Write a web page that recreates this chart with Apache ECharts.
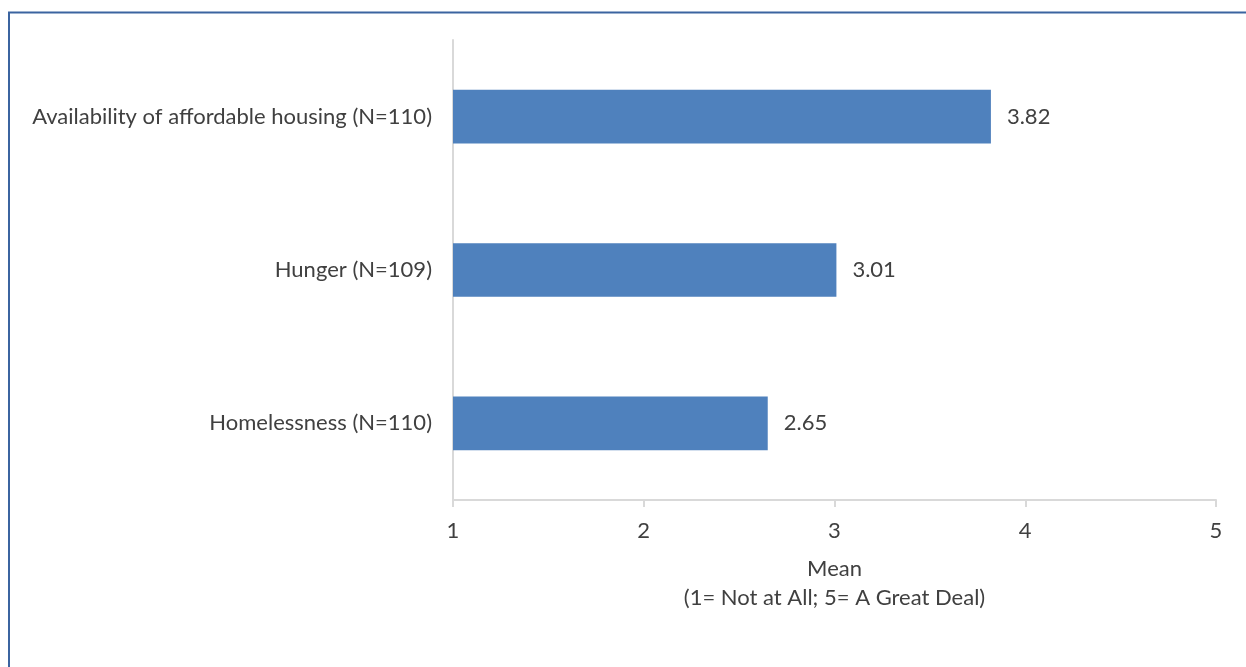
<!DOCTYPE html>
<html><head><meta charset="utf-8">
<script src="https://cdn.jsdelivr.net/npm/echarts@6/dist/echarts.min.js"></script>
<style>html,body{margin:0;padding:0;background:#fff;}#c{width:1246px;height:667px;}</style>
</head><body><div id="c"></div>
<script>
const categories = ['Homelessness (N=110)', 'Hunger (N=109)', 'Availability of affordable housing (N=110)'];
const means = [2.65, 3.01, 3.82];
const xTicks = [1, 2, 3, 4, 5];
const axisTitle = 'Mean\n(1= Not at All; 5= A Great Deal)';

const FONT = 'Lato';
const FS = 22;
const chart = echarts.init(document.getElementById('c'), null, {renderer: 'canvas'});
chart.setOption({
  backgroundColor: '#ffffff',
  animation: false,
  textStyle: {fontFamily: FONT},
  grid: {left: 453, right: 30, top: 40, bottom: 167, containLabel: false},
  xAxis: {
    type: 'value', min: xTicks[0], max: xTicks[xTicks.length - 1], interval: 1,
    name: axisTitle, nameLocation: 'middle', nameGap: 54,
    nameTextStyle: {fontFamily: FONT, fontSize: FS, color: '#404040', lineHeight: 29},
    axisLine: {show: true, lineStyle: {color: '#d9d9d9', width: 2}},
    axisTick: {show: true, length: 7, lineStyle: {color: '#d9d9d9', width: 2}},
    splitLine: {show: false},
    axisLabel: {fontFamily: FONT, fontSize: FS, color: '#404040', margin: 20}
  },
  yAxis: {
    type: 'category', data: categories,
    axisLine: {show: true, lineStyle: {color: '#d9d9d9', width: 2}},
    axisTick: {show: false},
    axisLabel: {fontFamily: FONT, fontSize: FS, color: '#404040', margin: 21}
  },
  series: [{
    type: 'bar', data: means, barWidth: '35%',
    itemStyle: {color: '#4f81bd'},
    label: {show: true, position: 'right', distance: 16, fontFamily: FONT, fontSize: FS, color: '#404040',
      formatter: p => p.value.toFixed(2)}
  }],
  graphic: [
    {type: 'line', shape: {x1: 8, y1: 12.5, x2: 1246, y2: 12.5}, style: {stroke: '#3b64a0', lineWidth: 2}, silent: true},
    {type: 'line', shape: {x1: 9, y1: 12, x2: 9, y2: 667}, style: {stroke: '#3b64a0', lineWidth: 2}, silent: true}
  ]
});
</script></body></html>
